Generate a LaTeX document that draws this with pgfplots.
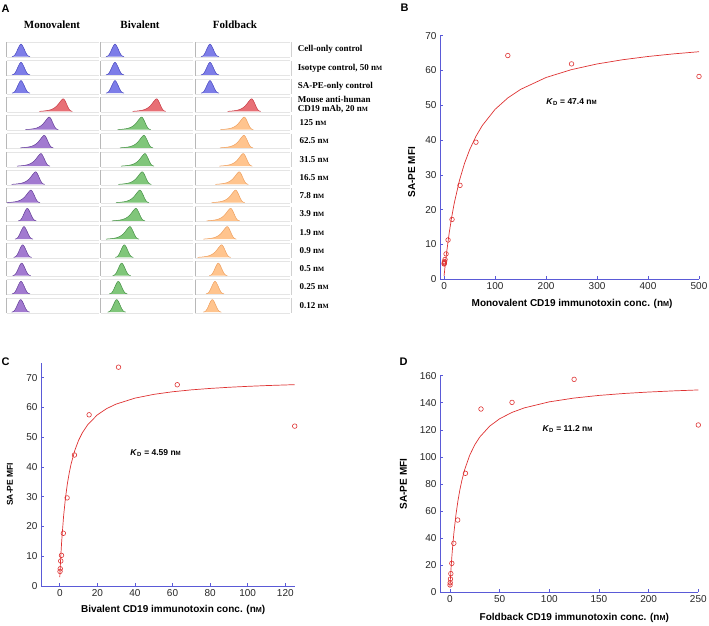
\documentclass[border=0pt]{standalone}
\usepackage{fontspec}
\setmainfont{Liberation Sans}
\newfontfamily\tms{Liberation Serif}
\usepackage{graphicx}
\usepackage{pgfplots}
\pgfplotsset{compat=1.18}
\usepackage{pgfplotstable}

\definecolor{axblue}{RGB}{90,90,215}
\definecolor{fitred}{RGB}{222,50,50}
\definecolor{bluefill}{RGB}{125,125,232}\definecolor{blueedge}{RGB}{70,70,190}
\definecolor{redfill}{RGB}{232,112,118}\definecolor{rededge}{RGB}{200,60,70}
\definecolor{purfill}{RGB}{162,122,208}\definecolor{puredge}{RGB}{100,62,152}
\definecolor{grnfill}{RGB}{128,198,122}\definecolor{grnedge}{RGB}{70,145,70}
\definecolor{orgfill}{RGB}{255,196,142}\definecolor{orgedge}{RGB}{238,160,95}

\newcommand\nM{n\scalebox{0.72}{M}}

% symmetric histogram shape (control-like), x relative to peak, height in px
\pgfplotstableread{
x y
-9 0
-7.5 0.4
-6.5 1.2
-5.5 2.6
-4.5 4.5
-3.5 6.8
-2.5 9.0
-1.5 11.0
-0.5 12.3
0 12.5
0.5 12.3
1.5 11.0
2.5 9.0
3.5 6.8
4.5 4.5
5.5 2.6
6.5 1.2
7.5 0.4
9 0
}\ctrlshape
% left-skewed histogram shape (stained cells)
\pgfplotstableread{
x y
-24 0
-20 0.3
-16 0.8
-13 1.5
-10.5 2.5
-8.5 3.7
-6.5 5.4
-4.5 7.8
-3 9.8
-1.5 11.6
-0.5 12.4
0 12.5
0.5 12.3
1.5 11.0
2.5 9.0
3.5 6.8
4.5 4.5
5.5 2.6
6.5 1.2
7.5 0.4
9 0
}\posshape

\newcommand\hist[4]{\addplot[fill=#1fill,draw=#1edge,line width=0.5pt] table[x expr=\thisrow{x}+#3, y expr=\thisrow{y}-#4]{#2};}

\pgfplotsset{bind/.style={
  scale only axis, axis lines=left, clip=false,
  axis line style={axblue,-,line width=0.7pt},
  tick style={axblue,line width=0.6pt},
  tick align=inside, major tick length=3pt,
  ticklabel style={font=\fontsize{10}{12}\selectfont, text=black!85},
  /pgf/number format/assume math mode=true,
  label style={font=\bfseries\fontsize{10}{12}\selectfont},
  xlabel style={anchor=center},
  ylabel style={anchor=center},
}}

\begin{document}
\begin{tikzpicture}
\useasboundingbox (0,0) rectangle (709pt,-626pt);

% ---------- Panel A ----------
\node[font=\bfseries\fontsize{11}{12}\selectfont,anchor=north west,inner sep=0pt] at (1.5pt,-4.5pt) {A};
\node[font=\tms\bfseries\fontsize{11}{12}\selectfont] at (52pt,-24.3pt) {Monovalent};
\node[font=\tms\bfseries\fontsize{11}{12}\selectfont] at (140pt,-24.3pt) {Bivalent};
\node[font=\tms\bfseries\fontsize{11}{12}\selectfont] at (235pt,-24.3pt) {Foldback};

\foreach \i in {0,...,14}{
  \pgfmathsetmacro\rtop{-(42.3+18.25*\i)}
  \pgfmathsetmacro\rbot{\rtop-15}
  \foreach \cl/\cr in {6.7/98.5,100.7/193,195/289.5}{
    \draw[black!10,line width=0.4pt] (\cl pt,\rtop pt) -- (\cr pt,\rtop pt);
    \draw[black!10,line width=0.4pt] (\cl pt,\rbot pt) -- (\cr pt,\rbot pt);
    \draw[black!28,line width=0.5pt] (\cl pt,\rtop pt) -- (\cl pt,\rbot pt);
  }
  \draw[black!18,line width=0.5pt] (291.7pt,\rtop pt) -- (291.7pt,\rbot pt);
}

\begin{axis}[at={(0pt,0pt)}, anchor=north west, x=1pt, y=1pt,
  xmin=0, xmax=300, ymin=-320, ymax=0, hide axis, clip=false]
% controls
\hist{blue}{\ctrlshape}{21}{56.6}  \hist{blue}{\ctrlshape}{115}{56.6}  \hist{blue}{\ctrlshape}{210}{56.6}
\hist{blue}{\ctrlshape}{21}{74.85} \hist{blue}{\ctrlshape}{115}{74.85} \hist{blue}{\ctrlshape}{210}{74.85}
\hist{blue}{\ctrlshape}{21}{93.1}  \hist{blue}{\ctrlshape}{115}{93.1}  \hist{blue}{\ctrlshape}{210}{93.1}
% mouse anti-human CD19 mAb
\hist{red}{\posshape}{63.3}{111.35} \hist{red}{\posshape}{156.7}{111.35} \hist{red}{\posshape}{251.7}{111.35}
% concentrations 125 ... 0.12 nM
\hist{pur}{\posshape}{49.3}{129.6}  \hist{grn}{\posshape}{141.7}{129.6}  \hist{org}{\posshape}{244.3}{129.6}
\hist{pur}{\posshape}{44.3}{147.85} \hist{grn}{\posshape}{144}{147.85}   \hist{org}{\posshape}{244}{147.85}
\hist{pur}{\posshape}{41}{166.1}    \hist{grn}{\posshape}{145}{166.1}    \hist{org}{\posshape}{243.3}{166.1}
\hist{pur}{\posshape}{35.7}{184.35} \hist{grn}{\posshape}{142.3}{184.35} \hist{org}{\posshape}{239.3}{184.35}
\hist{pur}{\posshape}{31}{202.6}    \hist{grn}{\posshape}{140}{202.6}    \hist{org}{\posshape}{235.7}{202.6}
\hist{pur}{\ctrlshape}{27.3}{220.85} \hist{grn}{\posshape}{136}{220.85}  \hist{org}{\posshape}{230.7}{220.85}
\hist{pur}{\ctrlshape}{24}{239.1}   \hist{grn}{\posshape}{130}{239.1}    \hist{org}{\posshape}{227.3}{239.1}
\hist{pur}{\ctrlshape}{22.7}{257.35} \hist{grn}{\ctrlshape}{124.3}{257.35} \hist{org}{\posshape}{221.7}{257.35}
\hist{pur}{\ctrlshape}{21.7}{275.6} \hist{grn}{\ctrlshape}{121.7}{275.6} \hist{org}{\ctrlshape}{218.3}{275.6}
\hist{pur}{\ctrlshape}{21}{293.85}  \hist{grn}{\ctrlshape}{118.3}{293.85} \hist{org}{\ctrlshape}{215}{293.85}
\hist{pur}{\ctrlshape}{20.7}{312.1} \hist{grn}{\ctrlshape}{116.7}{312.1} \hist{org}{\ctrlshape}{212.3}{312.1}
\end{axis}

\begin{scope}[every node/.style={font=\tms\bfseries\fontsize{9}{8.5}\selectfont,anchor=west,inner sep=0pt}]
\node at (297.7pt,-49.8pt) {Cell-only control};
\node at (297.7pt,-68.05pt) {Isotype control, 50 \nM};
\node at (297.7pt,-86.3pt) {SA-PE-only control};
\node[align=left] at (297.7pt,-104.55pt) {Mouse anti-human\\CD19 mAb, 20 \nM};
\node at (299.5pt,-122.8pt) {125 \nM};
\node at (299.5pt,-141.05pt) {62.5 \nM};
\node at (299.5pt,-159.3pt) {31.5 \nM};
\node at (299.5pt,-177.55pt) {16.5 \nM};
\node at (299.5pt,-195.8pt) {7.8 \nM};
\node at (299.5pt,-214.05pt) {3.9 \nM};
\node at (299.5pt,-232.3pt) {1.9 \nM};
\node at (299.5pt,-250.55pt) {0.9 \nM};
\node at (299.5pt,-268.8pt) {0.5 \nM};
\node at (299.5pt,-287.05pt) {0.25 \nM};
\node at (299.5pt,-305.3pt) {0.12 \nM};
\end{scope}

% ---------- Panel B ----------
\node[font=\bfseries\fontsize{11}{12}\selectfont,anchor=north west,inner sep=0pt] at (400.5pt,-4.2pt) {B};
\begin{axis}[bind, at={(440pt,-279.3pt)}, anchor=south west, width=259pt, height=243.6pt,
  xmin=-8, xmax=500, ymin=0, ymax=70,
  xtick={0,100,...,500}, ytick={0,10,...,70},
  xlabel={Monovalent CD19 immunotoxin conc. (\nM)}, ylabel={SA-PE MFI},
  xlabel style={at={(axis description cs:0.51,-0.101)}},
  ylabel style={at={(axis description cs:-0.109,0.44)}}]
\addplot[fitred, line width=0.7pt] coordinates {
(0,1) (2,3.85) (5,7.73) (10,13.28) (15,17.95) (20,21.92) (30,28.33) (40,33.27) (50,37.19)
(62.5,41.09) (75,44.20) (100,48.83) (125,52.12) (150,54.57) (200,57.99) (250,60.26)
(300,61.88) (350,63.09) (400,64.03) (450,64.78) (500,65.40)};
\addplot[only marks, mark=o, mark size=2.3pt, fitred, mark options={line width=0.6pt}] coordinates {
(0.12,4.4) (0.25,4.6) (0.5,4.8) (0.9,5.1) (1.9,5.7) (3.9,7.3) (7.8,11.3) (15.6,17.2)
(31.25,27.0) (62.5,39.4) (125,64.3) (250,61.9) (500,58.3)};
\node[font=\bfseries\fontsize{8.5}{10}\selectfont] at (axis cs:250,51) {\textit{K}\textsubscript{D} = 47.4 \nM};
\end{axis}

% ---------- Panel C ----------
\node[font=\bfseries\fontsize{11}{12}\selectfont,anchor=north west,inner sep=0pt] at (1.5pt,-357.7pt) {C};
\begin{axis}[bind, at={(41pt,-586pt)}, anchor=south west, width=253.7pt, height=223.3pt,
  xmin=-10, xmax=125, ymin=0, ymax=75,
  xtick={0,20,...,120}, ytick={0,10,...,70},
  xlabel={Bivalent CD19 immunotoxin conc. (\nM)}, ylabel={SA-PE MFI},
  xlabel style={at={(axis description cs:0.521,-0.107)}},
  ylabel style={at={(axis description cs:-0.122,0.456)},font=\bfseries\fontsize{8.5}{10}\selectfont}]
\addplot[fitred, line width=0.7pt] coordinates {
(0,3) (0.5,9.58) (1,14.99) (2,23.33) (3,29.48) (4,34.20) (5,37.93) (6,40.96) (8,45.57)
(10,48.92) (12,51.46) (15,54.30) (20,57.49) (25,59.61) (30,61.11) (40,63.10) (50,64.37)
(60,65.24) (70,65.88) (80,66.36) (90,66.75) (100,67.06) (110,67.32) (125,67.63)};
\addplot[only marks, mark=o, mark size=2.3pt, fitred, mark options={line width=0.6pt}] coordinates {
(0.12,4.9) (0.25,5.8) (0.5,8.4) (0.9,10.3) (1.9,17.7) (3.9,29.6) (7.8,44.0) (15.6,57.5)
(31.25,73.5) (62.5,67.6) (125,53.7)};
\node[font=\bfseries\fontsize{8.5}{10}\selectfont] at (axis cs:51,44.6) {\textit{K}\textsubscript{D} = 4.59 \nM};
\end{axis}

% ---------- Panel D ----------
\node[font=\bfseries\fontsize{11}{12}\selectfont,anchor=north west,inner sep=0pt] at (399.3pt,-357.7pt) {D};
\begin{axis}[bind, at={(440pt,-592.3pt)}, anchor=south west, width=258.3pt, height=216.6pt,
  xmin=-10, xmax=250, ymin=0, ymax=160,
  xtick={0,50,...,250}, ytick={0,20,...,160},
  xlabel={Foldback CD19 immunotoxin conc. (\nM)}, ylabel={SA-PE MFI},
  xlabel style={at={(axis description cs:0.52,-0.12)}},
  ylabel style={at={(axis description cs:-0.142,0.5)}}]
\addplot[fitred, line width=0.7pt] coordinates {
(0,4) (0.5,10.50) (1,16.46) (2,27.03) (3,36.11) (4,44.00) (6,57.02) (8,67.33) (10,75.70)
(12,82.62) (15,91.02) (20,101.44) (25,108.97) (30,114.68) (40,122.75) (50,128.18)
(62.5,132.90) (75,136.25) (100,140.69) (125,143.50) (150,145.44) (175,146.86)
(200,147.94) (225,148.79) (250,149.48)};
\addplot[only marks, mark=o, mark size=2.3pt, fitred, mark options={line width=0.6pt}] coordinates {
(0.12,5.4) (0.25,7.1) (0.5,9.8) (0.9,13.8) (1.9,21.4) (3.9,36.2) (7.8,53.4) (15.6,87.9)
(31.25,135.4) (62.5,140.3) (125,157.3) (250,123.6)};
\node[font=\bfseries\fontsize{8.5}{10}\selectfont] at (axis cs:118.3,120.4) {\textit{K}\textsubscript{D} = 11.2 \nM};
\end{axis}
\end{tikzpicture}
\end{document}
